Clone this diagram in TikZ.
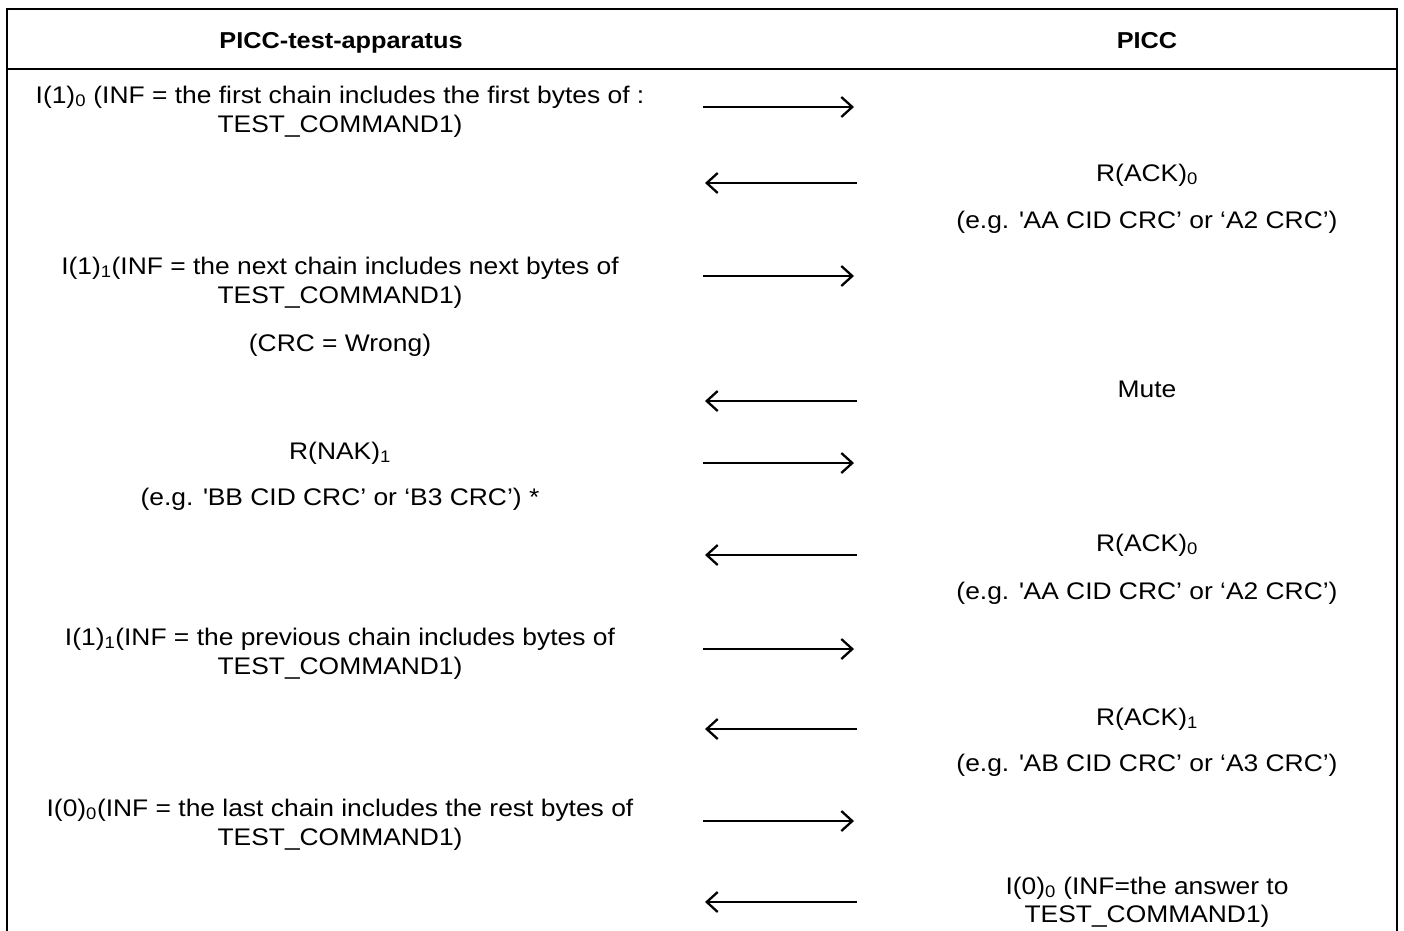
\documentclass[tikz,border=0pt]{standalone}
\usepackage{fontspec}
\setmainfont[FakeStretch=1.1]{Liberation Sans}
\usetikzlibrary{arrows.meta}
\newcommand{\sq}{\textquotesingle}
\newcommand{\sbs}[1]{\textsubscript{#1}}
\begin{document}
\begin{tikzpicture}[x=1pt,y=-1pt,
  txt/.style={align=center, font=\fontsize{24}{29}\selectfont, inner sep=0pt, anchor=base},
  hdr/.style={font=\fontsize{23}{27}\selectfont\bfseries, inner sep=0pt, anchor=base},
  msg/.style={line width=2.3pt, -{Straight Barb[length=11pt,width=20pt,line width=2.3pt]}},
  frame/.style={line width=2.2pt}]
\useasboundingbox (0,0) rectangle (1404,930);
% frame
\draw[frame] (7,932) -- (7,9) -- (1397,9) -- (1397,932);
\draw[frame] (7,69) -- (1397,69);
% headers
\node[hdr] (h1) at (341,48) {PICC-test-apparatus};
\node[hdr] (h2) at (1147,48) {PICC};
% left texts (two-line nodes are placed by the baseline of their last line)
\node[txt] (l1) at (340,132) {I(1)\sbs{0} (INF = the first chain includes the first bytes of :\\TEST\_COMMAND1)};
\node[txt] (l2) at (340,303) {I(1)\sbs{1}(INF = the next chain includes next bytes of\\TEST\_COMMAND1)};
\node[txt] (l2b) at (340,351) {(CRC = Wrong)};
\node[txt] (l3) at (340,459) {R(NAK)\sbs{1}};
\node[txt] (l3b) at (340,505) {(e.g. \sq BB CID CRC’ or ‘B3 CRC’) *};
\node[txt] (l4) at (340,674) {I(1)\sbs{1}(INF = the previous chain includes bytes of\\TEST\_COMMAND1)};
\node[txt] (l5) at (340,845) {I(0)\sbs{0}(INF = the last chain includes the rest bytes of\\TEST\_COMMAND1)};
% right texts
\node[txt] (r1) at (1147,181) {R(ACK)\sbs{0}};
\node[txt] (r1b) at (1147,228) {(e.g. \sq AA CID CRC’ or ‘A2 CRC’)};
\node[txt] (r2) at (1147,397) {Mute};
\node[txt] (r3) at (1147,551) {R(ACK)\sbs{0}};
\node[txt] (r3b) at (1147,599) {(e.g. \sq AA CID CRC’ or ‘A2 CRC’)};
\node[txt] (r4) at (1147,725) {R(ACK)\sbs{1}};
\node[txt] (r4b) at (1147,771) {(e.g. \sq AB CID CRC’ or ‘A3 CRC’)};
\node[txt, font=\fontsize{24}{28}\selectfont] (r5) at (1147,922) {I(0)\sbs{0} (INF=the answer to\\TEST\_COMMAND1)};
% arrow end points
\foreach \n/\y in {1/107,3/276,5/463,7/649,9/821}{
  \coordinate (a\n s) at (703,\y);
  \coordinate (a\n e) at (854,\y);
}
\foreach \n/\y in {2/183,4/401,6/555,8/729,10/902}{
  \coordinate (a\n s) at (857,\y);
  \coordinate (a\n e) at (705,\y);
}
\foreach \n in {1,...,10}{
  \draw[msg] (a\n s) -- (a\n e);
}
\end{tikzpicture}
\end{document}
